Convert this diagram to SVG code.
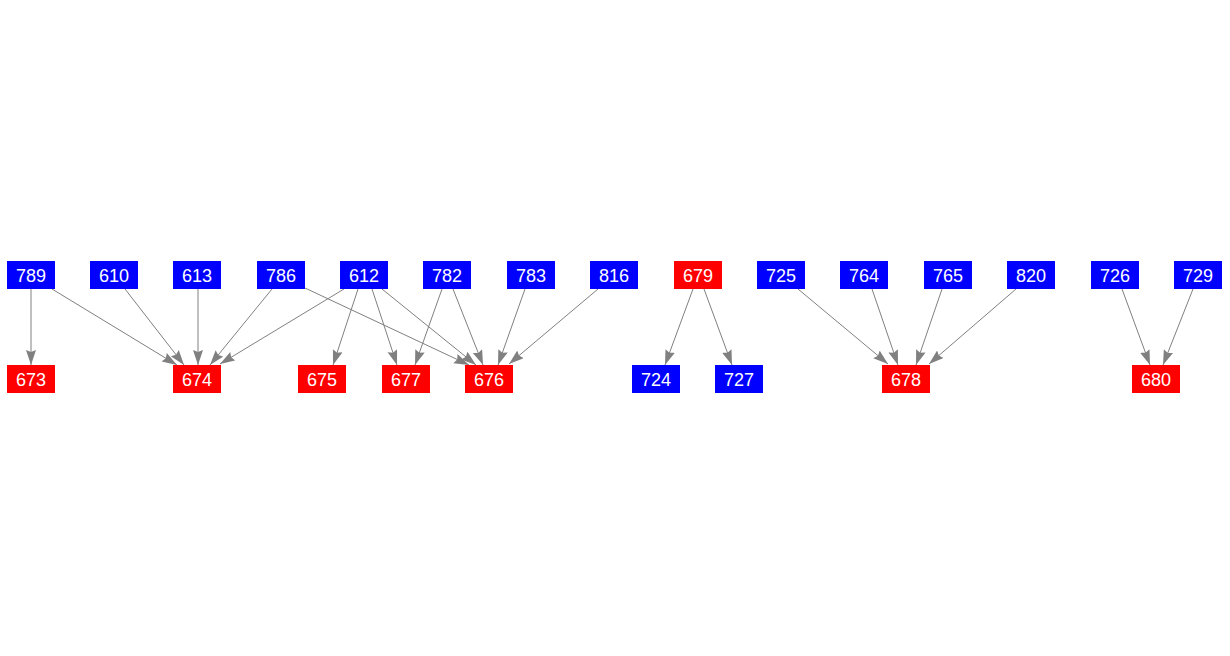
<svg xmlns="http://www.w3.org/2000/svg" width="1230" height="656" viewBox="0 0 1230 656">
<style>
.b{fill:#0000ff}
.r{fill:#ff0000}
text{font-family:"Liberation Sans",Arial,sans-serif;font-size:18px;fill:#ffffff;text-anchor:middle}
.e line{stroke:#808080;stroke-width:1;marker-end:url(#ah)}
</style>
<defs>
<marker id="ah" markerUnits="userSpaceOnUse" markerWidth="18" markerHeight="12" refX="15" refY="5" orient="auto">
<path d="M0,0 L15,5 L0,10 L2,5 Z" fill="#808080"/>
</marker>
</defs>
<rect width="1230" height="656" fill="#ffffff"/>
<g id="connectors" class="e">
<line x1="31" y1="289" x2="31" y2="365"/>
<line x1="52" y1="289" x2="177" y2="365"/>
<line x1="125" y1="289" x2="184" y2="365"/>
<line x1="198" y1="289" x2="198" y2="365"/>
<line x1="272" y1="289" x2="210" y2="365"/>
<line x1="344" y1="289" x2="220" y2="364"/>
<line x1="305" y1="288" x2="469" y2="365"/>
<line x1="358" y1="289" x2="333" y2="365"/>
<line x1="372" y1="289" x2="397" y2="365"/>
<line x1="382" y1="289" x2="476" y2="365"/>
<line x1="442" y1="289" x2="415" y2="365"/>
<line x1="453" y1="289" x2="483" y2="365"/>
<line x1="525" y1="289" x2="498" y2="365"/>
<line x1="598" y1="289" x2="509" y2="364"/>
<line x1="693" y1="289" x2="665" y2="365"/>
<line x1="704" y1="289" x2="732" y2="365"/>
<line x1="798" y1="289" x2="888" y2="364"/>
<line x1="872" y1="289" x2="898" y2="365"/>
<line x1="942" y1="289" x2="916" y2="365"/>
<line x1="1016" y1="289" x2="929" y2="364"/>
<line x1="1122" y1="289" x2="1150" y2="365"/>
<line x1="1193" y1="289" x2="1163" y2="365"/>
</g>
<g id="n789"><rect class="b" x="7" y="261" width="48" height="28"/><text x="31" y="281.5">789</text></g>
<g id="n610"><rect class="b" x="90" y="261" width="48" height="28"/><text x="114" y="281.5">610</text></g>
<g id="n613"><rect class="b" x="173" y="261" width="48" height="28"/><text x="197" y="281.5">613</text></g>
<g id="n786"><rect class="b" x="257" y="261" width="48" height="28"/><text x="281" y="281.5">786</text></g>
<g id="n612"><rect class="b" x="340" y="261" width="48" height="28"/><text x="364" y="281.5">612</text></g>
<g id="n782"><rect class="b" x="423" y="261" width="48" height="28"/><text x="447" y="281.5">782</text></g>
<g id="n783"><rect class="b" x="507" y="261" width="48" height="28"/><text x="531" y="281.5">783</text></g>
<g id="n816"><rect class="b" x="590" y="261" width="48" height="28"/><text x="614" y="281.5">816</text></g>
<g id="n679"><rect class="r" x="674" y="261" width="48" height="28"/><text x="698" y="281.5">679</text></g>
<g id="n725"><rect class="b" x="757" y="261" width="48" height="28"/><text x="781" y="281.5">725</text></g>
<g id="n764"><rect class="b" x="840" y="261" width="48" height="28"/><text x="864" y="281.5">764</text></g>
<g id="n765"><rect class="b" x="924" y="261" width="48" height="28"/><text x="948" y="281.5">765</text></g>
<g id="n820"><rect class="b" x="1007" y="261" width="48" height="28"/><text x="1031" y="281.5">820</text></g>
<g id="n726"><rect class="b" x="1091" y="261" width="48" height="28"/><text x="1115" y="281.5">726</text></g>
<g id="n729"><rect class="b" x="1174" y="261" width="48" height="28"/><text x="1198" y="281.5">729</text></g>
<g id="n673"><rect class="r" x="7" y="365" width="48" height="28"/><text x="31" y="385.5">673</text></g>
<g id="n674"><rect class="r" x="173" y="365" width="48" height="28"/><text x="197" y="385.5">674</text></g>
<g id="n675"><rect class="r" x="298" y="365" width="48" height="28"/><text x="322" y="385.5">675</text></g>
<g id="n677"><rect class="r" x="382" y="365" width="48" height="28"/><text x="406" y="385.5">677</text></g>
<g id="n676"><rect class="r" x="465" y="365" width="48" height="28"/><text x="489" y="385.5">676</text></g>
<g id="n724"><rect class="b" x="632" y="365" width="48" height="28"/><text x="656" y="385.5">724</text></g>
<g id="n727"><rect class="b" x="715" y="365" width="48" height="28"/><text x="739" y="385.5">727</text></g>
<g id="n678"><rect class="r" x="882" y="365" width="48" height="28"/><text x="906" y="385.5">678</text></g>
<g id="n680"><rect class="r" x="1132" y="365" width="48" height="28"/><text x="1156" y="385.5">680</text></g>
</svg>
